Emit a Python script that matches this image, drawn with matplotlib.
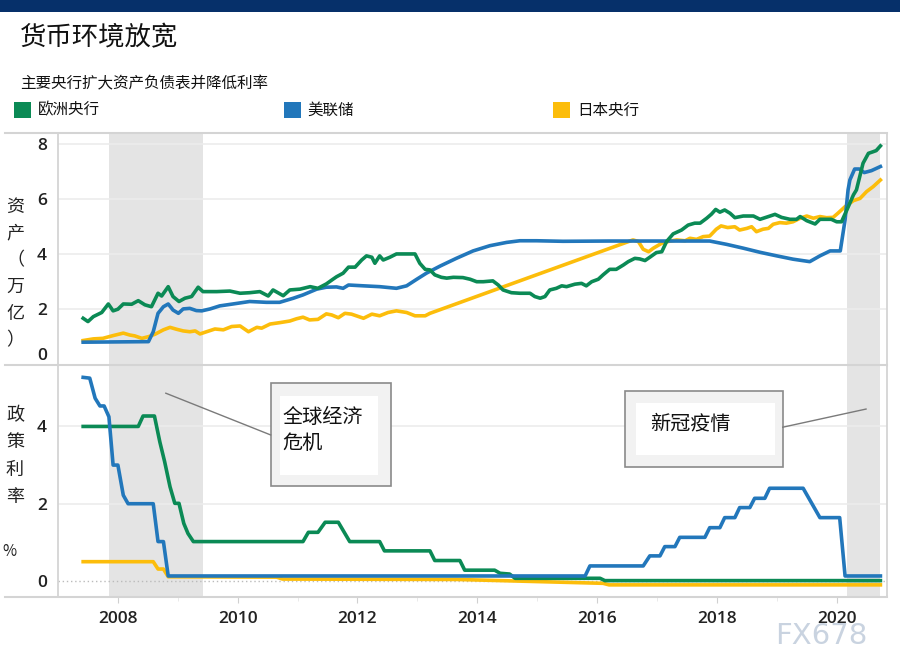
import matplotlib
matplotlib.use("Agg")
import matplotlib.pyplot as plt
from matplotlib.lines import Line2D
from matplotlib.patches import Rectangle

plt.rcParams["font.family"] = ["Noto Sans CJK SC", "DejaVu Sans"]
plt.rcParams["axes.unicode_minus"] = False

# ---- data ----
series_names = ["欧洲央行", "美联储", "日本央行"]
series_colors = ["#0b8a55", "#2277bb", "#fcbd0b"]

# balance sheets, trillion USD
ecb_asset_year = [2007.42, 2007.50, 2007.59, 2007.73, 2007.84, 2007.92, 2008.00, 2008.09, 2008.23, 2008.34,
                  2008.45, 2008.56, 2008.67, 2008.73, 2008.84, 2008.92, 2009.02, 2009.12, 2009.23, 2009.34,
                  2009.42, 2009.65, 2009.87, 2010.04, 2010.20, 2010.37, 2010.51, 2010.59, 2010.76, 2010.87,
                  2011.04, 2011.21, 2011.34, 2011.48, 2011.59, 2011.65, 2011.76, 2011.85, 2011.96, 2012.07,
                  2012.15, 2012.24, 2012.29, 2012.37, 2012.43, 2012.54, 2012.65, 2012.82, 2012.96, 2013.04,
                  2013.13, 2013.21, 2013.29, 2013.40, 2013.49, 2013.60, 2013.76, 2013.88, 2013.99, 2014.10,
                  2014.26, 2014.35, 2014.43, 2014.57, 2014.71, 2014.88, 2014.96, 2015.05, 2015.13, 2015.21,
                  2015.32, 2015.41, 2015.49, 2015.63, 2015.74, 2015.82, 2015.91, 2016.02, 2016.10, 2016.21,
                  2016.32, 2016.44, 2016.52, 2016.63, 2016.71, 2016.80, 2016.88, 2016.99, 2017.08, 2017.16,
                  2017.27, 2017.41, 2017.52, 2017.63, 2017.72, 2017.83, 2017.91, 2017.98, 2018.05, 2018.13,
                  2018.22, 2018.30, 2018.44, 2018.61, 2018.72, 2018.86, 2018.97, 2019.08, 2019.22, 2019.33,
                  2019.39, 2019.50, 2019.64, 2019.72, 2019.83, 2019.91, 2020.00, 2020.08, 2020.17, 2020.28,
                  2020.33, 2020.44, 2020.53, 2020.61, 2020.66, 2020.73]
ecb_asset_val = [1.66, 1.54, 1.72, 1.87, 2.18, 1.93, 1.99, 2.18, 2.17, 2.30,
                 2.15, 2.08, 2.57, 2.47, 2.81, 2.45, 2.27, 2.39, 2.45, 2.79,
                 2.63, 2.63, 2.65, 2.57, 2.59, 2.63, 2.47, 2.69, 2.48, 2.69,
                 2.72, 2.81, 2.75, 2.91, 3.08, 3.17, 3.30, 3.52, 3.52, 3.78,
                 3.93, 3.88, 3.66, 3.93, 3.78, 3.88, 4.00, 4.00, 4.00, 3.66,
                 3.44, 3.42, 3.24, 3.15, 3.12, 3.15, 3.14, 3.08, 2.99, 2.99,
                 3.02, 2.87, 2.69, 2.59, 2.57, 2.57, 2.45, 2.39, 2.45, 2.69,
                 2.75, 2.84, 2.81, 2.90, 2.93, 2.84, 2.99, 3.08, 3.24, 3.44,
                 3.44, 3.60, 3.72, 3.84, 3.82, 3.76, 3.88, 4.05, 4.08, 4.45,
                 4.73, 4.87, 5.05, 5.12, 5.12, 5.30, 5.45, 5.62, 5.52, 5.60,
                 5.48, 5.32, 5.38, 5.38, 5.26, 5.36, 5.44, 5.33, 5.26, 5.26,
                 5.36, 5.21, 5.09, 5.26, 5.26, 5.26, 5.17, 5.17, 5.60, 6.15,
                 6.33, 7.30, 7.66, 7.72, 7.76, 7.93]

fed_asset_year = [2007.42, 2008.51, 2008.59, 2008.67, 2008.76, 2008.84, 2008.92, 2009.01, 2009.09, 2009.20,
                  2009.31, 2009.40, 2009.54, 2009.70, 2009.92, 2010.20, 2010.48, 2010.70, 2010.93, 2011.09,
                  2011.32, 2011.48, 2011.65, 2011.76, 2011.85, 2012.10, 2012.37, 2012.65, 2012.82, 2012.99,
                  2013.15, 2013.38, 2013.65, 2013.93, 2014.21, 2014.49, 2014.71, 2014.99, 2015.43, 2016.21,
                  2017.88, 2018.16, 2018.44, 2018.72, 2019.00, 2019.27, 2019.55, 2019.72, 2019.89, 2020.06,
                  2020.14, 2020.19, 2020.22, 2020.30, 2020.38, 2020.46, 2020.58, 2020.73]
fed_asset_val = [0.79, 0.81, 1.17, 1.84, 2.08, 2.18, 1.96, 1.84, 2.00, 2.02,
                 1.94, 1.93, 2.00, 2.11, 2.18, 2.27, 2.24, 2.24, 2.39, 2.51,
                 2.72, 2.79, 2.80, 2.75, 2.87, 2.84, 2.81, 2.75, 2.84, 3.08,
                 3.30, 3.56, 3.84, 4.11, 4.30, 4.42, 4.48, 4.48, 4.46, 4.47,
                 4.47, 4.35, 4.21, 4.06, 3.93, 3.81, 3.72, 3.93, 4.11, 4.11,
                 5.24, 6.33, 6.69, 7.09, 7.09, 6.96, 7.03, 7.18]

boj_asset_year = [2007.42, 2007.59, 2007.75, 2007.92, 2008.09, 2008.20, 2008.28, 2008.40, 2008.51, 2008.62,
                  2008.76, 2008.87, 2008.98, 2009.09, 2009.20, 2009.29, 2009.37, 2009.48, 2009.62, 2009.76,
                  2009.90, 2010.04, 2010.18, 2010.32, 2010.40, 2010.54, 2010.70, 2010.87, 2010.98, 2011.09,
                  2011.20, 2011.34, 2011.48, 2011.57, 2011.68, 2011.79, 2011.90, 2011.98, 2012.10, 2012.24,
                  2012.37, 2012.51, 2012.65, 2012.82, 2012.96, 2013.13, 2013.21, 2016.60, 2016.69, 2016.77,
                  2016.86, 2016.94, 2017.08, 2017.22, 2017.33, 2017.47, 2017.55, 2017.66, 2017.77, 2017.88,
                  2017.99, 2018.07, 2018.18, 2018.30, 2018.38, 2018.50, 2018.58, 2018.66, 2018.77, 2018.86,
                  2018.94, 2019.05, 2019.16, 2019.27, 2019.39, 2019.50, 2019.61, 2019.72, 2019.83, 2019.94,
                  2020.02, 2020.14, 2020.28, 2020.39, 2020.50, 2020.61, 2020.73]
boj_asset_val = [0.85, 0.91, 0.93, 1.03, 1.12, 1.05, 1.02, 0.93, 0.99, 1.08,
                 1.24, 1.33, 1.26, 1.20, 1.17, 1.20, 1.09, 1.17, 1.27, 1.24,
                 1.36, 1.38, 1.17, 1.33, 1.30, 1.45, 1.50, 1.56, 1.64, 1.70,
                 1.60, 1.62, 1.82, 1.78, 1.68, 1.84, 1.81, 1.75, 1.66, 1.81,
                 1.75, 1.87, 1.93, 1.87, 1.75, 1.75, 1.84, 4.51, 4.45, 4.17,
                 4.08, 4.21, 4.39, 4.47, 4.51, 4.48, 4.57, 4.53, 4.63, 4.65,
                 4.90, 5.02, 4.96, 4.99, 4.87, 4.93, 4.99, 4.81, 4.90, 4.93,
                 5.08, 5.14, 5.12, 5.17, 5.30, 5.38, 5.30, 5.36, 5.32, 5.33,
                 5.48, 5.72, 5.94, 6.02, 6.27, 6.45, 6.69]

# policy rates, %
ecb_rate_year = [2007.42, 2008.34, 2008.42, 2008.61, 2008.70, 2008.78, 2008.87, 2008.95, 2009.02, 2009.10,
                 2009.17, 2009.26, 2011.09, 2011.18, 2011.34, 2011.46, 2011.68, 2011.87, 2012.37, 2012.45,
                 2013.21, 2013.29, 2013.71, 2013.79, 2014.29, 2014.38, 2014.54, 2014.63, 2016.05, 2016.13,
                 2020.73]
ecb_rate_val = [4.00, 4.00, 4.27, 4.27, 3.60, 3.09, 2.44, 2.01, 2.01, 1.49,
                1.23, 1.02, 1.02, 1.26, 1.26, 1.52, 1.52, 1.02, 1.02, 0.78,
                0.78, 0.53, 0.53, 0.28, 0.28, 0.20, 0.18, 0.07, 0.07, 0.01,
                0.01]

fed_rate_year = [2007.42, 2007.53, 2007.62, 2007.70, 2007.77, 2007.85, 2007.92, 2008.00, 2008.09, 2008.17,
                 2008.59, 2008.67, 2008.76, 2008.84, 2015.80, 2015.88, 2016.77, 2016.88, 2017.05, 2017.13,
                 2017.30, 2017.38, 2017.80, 2017.88, 2018.05, 2018.13, 2018.30, 2018.38, 2018.55, 2018.63,
                 2018.80, 2018.88, 2019.44, 2019.72, 2020.05, 2020.14, 2020.73]
fed_rate_val = [5.27, 5.25, 4.73, 4.53, 4.53, 4.25, 3.00, 3.00, 2.22, 2.00,
                2.00, 1.02, 1.02, 0.13, 0.13, 0.39, 0.39, 0.65, 0.65, 0.89,
                0.89, 1.13, 1.13, 1.38, 1.38, 1.64, 1.64, 1.90, 1.90, 2.14,
                2.14, 2.40, 2.40, 1.64, 1.64, 0.13, 0.13]

boj_rate_year = [2007.42, 2008.59, 2008.67, 2008.76, 2008.84, 2010.65, 2010.75, 2013.66, 2016.10, 2016.20, 2020.73]
boj_rate_val = [0.50, 0.50, 0.31, 0.31, 0.11, 0.10, 0.05, 0.04, -0.06, -0.10, -0.10]

crisis_span = (2007.85, 2009.42)
covid_span = (2020.17, 2020.72)

asset_ticks = [0, 2, 4, 6, 8]
rate_ticks = [0, 2, 4]
year_ticks = [2008, 2010, 2012, 2014, 2016, 2018, 2020]
minor_year_ticks = [2009, 2011, 2013, 2015, 2017, 2019]

W, H = 900, 667


def fx(px):
    return px / W


def fy(py):
    return 1 - py / H


fig = plt.figure(figsize=(9, 6.67), dpi=100)

# top band
fig.add_artist(Rectangle((0, fy(12)), 1, 12 / H, transform=fig.transFigure,
                         facecolor="#06306a", edgecolor="none"))

fig.text(fx(20), fy(38), "货币环境放宽", fontsize=19, va="center", ha="left", color="#111111")
fig.text(fx(20), fy(84), "主要央行扩大资产负债表并降低利率", fontsize=11.2, va="center", ha="left",
         color="#111111")

for i, (name, color) in enumerate(zip(series_names, series_colors)):
    x0 = 14 + i * 269.5
    fig.add_artist(Rectangle((fx(x0), fy(118)), 17 / W, 16 / H, transform=fig.transFigure,
                             facecolor=color, edgecolor="none"))
    fig.text(fx(x0 + 24), fy(110), name, fontsize=11.2, va="center", ha="left", color="#111111")

ax_w = (887 - 58) / W
ax_h = 232 / H
ax_top = fig.add_axes([fx(58), fy(365), ax_w, ax_h])
ax_bot = fig.add_axes([fx(58), fy(597), ax_w, ax_h])

border = "#d4d4d4"
for ax in (ax_top, ax_bot):
    ax.set_xlim(2007.0, 2020.84)
    for s in ("top", "bottom"):
        ax.spines[s].set_visible(False)
    for s in ("left", "right"):
        ax.spines[s].set_color(border)
        ax.spines[s].set_linewidth(1.3)
    ax.axvspan(*crisis_span, color="#e4e4e4", lw=0, zorder=0)
    ax.axvspan(*covid_span, color="#e4e4e4", lw=0, zorder=0)
    ax.tick_params(axis="y", length=0, pad=8, labelsize=12.5, labelcolor="#222222")
    ax.set_facecolor("none")

# frame lines running into the left margin
for py in (133, 365, 597):
    fig.add_artist(Line2D([fx(5), fx(887)], [fy(py), fy(py)], transform=fig.transFigure,
                          color=border, lw=1.5))

# --- top: assets ---
ax_top.set_ylim(-0.04, 8.4)
ax_top.set_yticks(asset_ticks)
for t in asset_ticks[1:]:
    ax_top.axhline(t, color="#ececec", lw=1.2, zorder=1)
ax_top.plot(boj_asset_year, boj_asset_val, color=series_colors[2], lw=2.6, zorder=3)
ax_top.plot(fed_asset_year, fed_asset_val, color=series_colors[1], lw=2.6, zorder=4)
ax_top.plot(ecb_asset_year, ecb_asset_val, color=series_colors[0], lw=2.6, zorder=5)
ax_top.tick_params(axis="x", length=0, labelbottom=False)

# --- bottom: rates ---
ax_bot.set_ylim(-0.414, 5.59)
ax_bot.set_yticks(rate_ticks)
for t in rate_ticks[1:]:
    ax_bot.axhline(t, color="#ececec", lw=1.2, zorder=1)
ax_bot.axhline(0, color="#bbbbbb", lw=1, ls=(0, (1, 2)), zorder=1)
ax_bot.plot(boj_rate_year, boj_rate_val, color=series_colors[2], lw=2.6, zorder=3)
ax_bot.plot(ecb_rate_year, ecb_rate_val, color=series_colors[0], lw=2.6, zorder=4)
ax_bot.plot(fed_rate_year, fed_rate_val, color=series_colors[1], lw=2.6, zorder=5)
ax_bot.set_xticks(year_ticks)
ax_bot.set_xticks(minor_year_ticks, minor=True)
ax_bot.tick_params(axis="x", which="major", length=4, color="#d0d0d0", pad=6,
                   labelsize=12.5, labelcolor="#222222")
ax_bot.tick_params(axis="x", which="minor", length=3, color="#e6e6e6")

for lab in ax_top.get_yticklabels() + ax_bot.get_yticklabels() + ax_bot.get_xticklabels():
    lab.set_family(["Open Sans", "DejaVu Sans"])
    lab.set_fontweight("semibold")
ax_top.get_yticklabels()[0].set_verticalalignment("bottom")

# axis titles, one character per line
for i, ch in enumerate("资产（万亿）"):
    fig.text(fx(15), fy(207 + i * 26.7), ch, fontsize=13, ha="center", va="center", color="#222222")
for i, ch in enumerate("政策利率"):
    fig.text(fx(15), fy(415 + i * 27.3), ch, fontsize=13, ha="center", va="center", color="#222222")
fig.text(fx(9), fy(552), "%", fontsize=11, ha="center", va="center", color="#222222")

# annotation boxes
def note_box(ax, x0, x1, y0, y1, ix0, ix1, iy0, iy1):
    ax.add_patch(Rectangle((x0, y0), x1 - x0, y1 - y0, facecolor="#f2f2f2", edgecolor="#8a8a8a",
                           lw=1.2, zorder=6))
    ax.add_patch(Rectangle((ix0, iy0), ix1 - ix0, iy1 - iy0, facecolor="white", edgecolor="none",
                           zorder=6))


note_box(ax_bot, 2010.55, 2012.56, 2.45, 5.12, 2010.70, 2012.34, 2.74, 4.79)
ax_bot.plot([2008.80, 2010.55], [4.86, 3.78], color="#7a7a7a", lw=1, zorder=6)
ax_bot.text(2010.74, 4.24, "全球经济", fontsize=14.5, va="center", ha="left", color="#111111", zorder=7)
ax_bot.text(2010.74, 3.57, "危机", fontsize=14.5, va="center", ha="left", color="#111111", zorder=7)

note_box(ax_bot, 2016.46, 2019.10, 2.95, 4.92, 2016.65, 2018.97, 3.26, 4.61)
ax_bot.plot([2019.10, 2020.49], [3.98, 4.45], color="#7a7a7a", lw=1, zorder=6)
ax_bot.text(2016.88, 4.06, "新冠疫情", fontsize=14.5, va="center", ha="left", color="#111111", zorder=7)

# watermark
fig.text(fx(821), fy(636), "FX678", fontsize=21, ha="center", va="center", color="#c9d3e0",
         family=["DejaVu Sans"])

fig.savefig("out.png", dpi=100)
